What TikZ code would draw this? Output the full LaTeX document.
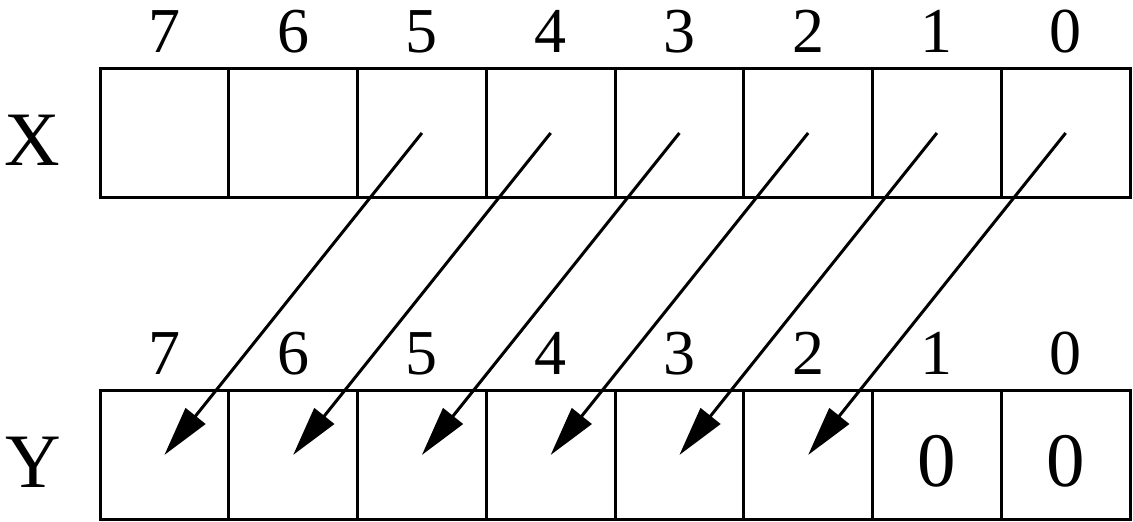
\documentclass[tikz,border=0pt]{standalone}
\usepackage{fontspec}
\setmainfont{Liberation Serif}
\usetikzlibrary{arrows.meta}
\tikzset{
  cell/.style={draw, line width=3pt, minimum width=128.75pt, minimum height=129pt, inner sep=0pt},
  idx/.style={inner sep=0pt, font=\fontsize{64}{64}\selectfont},
  big/.style={inner sep=0pt, font=\fontsize{77}{77}\selectfont},
  shiftarrow/.style={line width=3pt, -{Triangle[length=50pt,width=25pt]}}
}
\begin{document}
\begin{tikzpicture}[x=1pt,y=-1pt]
\useasboundingbox (0,0) rectangle (1133,522);
\foreach \i in {0,...,7}{
  \pgfmathtruncatemacro{\k}{7-\i}
  \node[cell] (X\k) at ({100+128.75*(\i+0.5)},133) {};
  \node[cell] (Y\k) at ({100+128.75*(\i+0.5)},455) {};
  \node[idx] (xl\k) at ({100+128.75*(\i+0.5)},31.5) {\k};
  \node[idx] (yl\k) at ({100+128.75*(\i+0.5)},353.5) {\k};
}
\node[big] (xlab) at (32,140.5) {X};
\node[big] (ylab) at (33,462) {Y};
\node[big] (z1) at ([yshift=-6.5pt]Y1.center) {0};
\node[big] (z0) at ([yshift=-6.5pt]Y0.center) {0};
\foreach \s/\t in {5/7,4/6,3/5,2/4,1/3,0/2}{
  \draw[shiftarrow] (X\s.center) -- (Y\t.center);
}
\end{tikzpicture}
\end{document}
